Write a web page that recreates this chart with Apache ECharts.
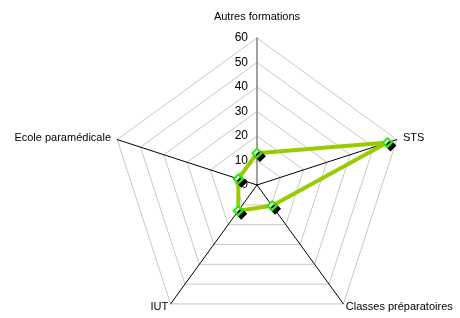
<!DOCTYPE html>
<html><head><meta charset="utf-8">
<script src="https://cdn.jsdelivr.net/npm/echarts@6/dist/echarts.min.js"></script>
<style>html,body{margin:0;padding:0;background:#fff}#c{width:460px;height:318px}</style>
</head><body><div id="c"></div>
<script>
// Excel order (clockwise from top)
var categories = ['Autres formations', 'STS', 'Classes préparatoires', 'IUT', 'Ecole paramédicale'];
var values = [13, 56, 10.5, 13, 8];
var axisMax = 60;
var tickInterval = 10;

// label gaps per category (Excel order)
var nameGaps = [16, 6.5, 4, 4, 6.5];

// ECharts radar runs counter-clockwise: keep first, reverse the rest
var order = [0, 4, 3, 2, 1];
var indicators = order.map(function (i, k) {
  var ind = { name: categories[i], max: axisMax, min: 0, nameGap: nameGaps[i] };
  if (k === 0) {
    ind.axisLabel = { show: true };
    ind.axisLine = { lineStyle: { color: '#808080', width: 1.5 } };
  }
  return ind;
});
var seriesData = order.map(function (i) { return values[i]; });

var chart = echarts.init(document.getElementById('c'), null, { renderer: 'canvas' });
chart.setOption({
  animation: false,
  radar: {
    center: [257, 185],
    radius: 147,
    startAngle: 90,
    shape: 'polygon',
    splitNumber: axisMax / tickInterval,
    indicator: indicators,
    axisName: { color: '#000', fontFamily: 'Liberation Sans, Arial', fontSize: 11 },
    nameGap: 8,
    axisLine: { lineStyle: { color: '#000', width: 1 } },
    splitLine: { lineStyle: { color: '#c8c8c8', width: 1 } },
    splitArea: { show: false },
    axisTick: { show: false },
    axisLabel: {
      show: false, color: '#000', fontFamily: 'Liberation Sans, Arial', fontSize: 12,
      margin: 9
    }
  },
  series: [{
    type: 'radar',
    symbol: 'diamond',
    symbolSize: 9,
    lineStyle: { color: '#99cc00', width: 4 },
    itemStyle: {
      color: '#ffffff', borderColor: '#22ee00', borderWidth: 2,
      shadowColor: '#000', shadowOffsetX: 3, shadowOffsetY: 3, shadowBlur: 0
    },
    data: [{ value: seriesData, name: 'Série' }]
  }]
});
</script></body></html>
